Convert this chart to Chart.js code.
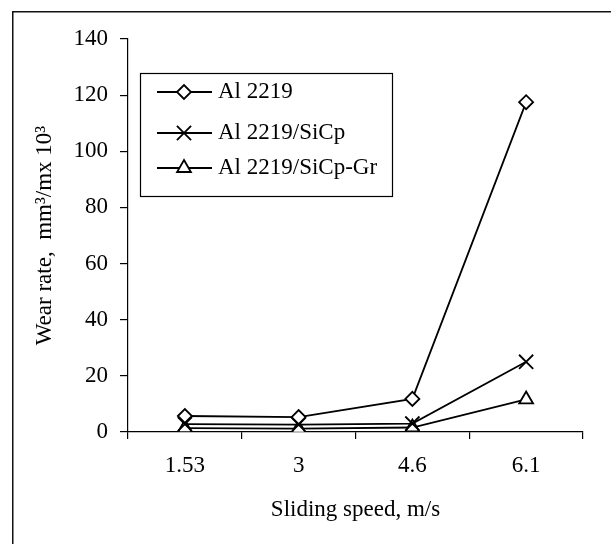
<!DOCTYPE html>
<html>
<head>
<meta charset="utf-8">
<script src="https://cdn.jsdelivr.net/npm/chart.js@4/dist/chart.umd.min.js"></script>
<style>
body{margin:0;background:#fff}
#wrap{width:611px;height:544px}
</style>
</head>
<body>
<div id="wrap"><canvas id="wear"></canvas></div>
<script>

/* DATA */

const speeds=["1.53","3","4.6","6.1"]
const al2219=[5.7,5.3,11.8,117.5]
const al2219SiCp=[2.8,2.6,3,25]
const al2219SiCpGr=[1.4,1.2,1.6,11.6]
const seriesNames=["Al 2219","Al 2219/SiCp","Al 2219/SiCp-Gr"]
const yMin=0
const yMax=140
const yStep=20

const serif="'Liberation Serif','Times New Roman',serif"


/* FRAME + LEGEND */

const frame={
id:"frame",
beforeDraw(chart){
let c=chart.ctx
c.save()
c.fillStyle="#fff"
c.fillRect(0,0,chart.width,chart.height)
c.strokeStyle="#111"
c.lineWidth=1.5
c.beginPath()
c.moveTo(12.75,chart.height)
c.lineTo(12.75,11.75)
c.lineTo(chart.width,11.75)
c.stroke()
c.restore()
},
afterDraw(chart){
let c=chart.ctx
c.save()
c.strokeStyle="#000"
c.lineWidth=1.2
c.strokeRect(140.5,73.5,252,123)

const rows=[92,133,168]

chart.data.datasets.forEach((ds,i)=>{
let y=rows[i]
c.strokeStyle="#000"
c.lineWidth=1.8
c.beginPath()
c.moveTo(157,y)
c.lineTo(212,y)
c.stroke()
c.fillStyle="#fff"
Chart.helpers.drawPoint(c,{pointStyle:ds.pointStyle,radius:ds.pointRadius,borderWidth:1.8,rotation:0},184,y)
c.fillStyle="#000"
c.font="23px "+serif
c.textBaseline="middle"
c.fillText(ds.label,218,y)
})

c.restore()
}
}


/* CHART */

function series(label,data,style,r){
return{
label:label,
data:data,
borderColor:"#000",
borderWidth:1.8,
pointStyle:style,
pointRadius:r,
pointBackgroundColor:"#fff",
pointBorderColor:"#000",
pointBorderWidth:1.8,
tension:0,
fill:false
}
}

new Chart(document.getElementById("wear"),{

type:"line",

data:{
labels:speeds,
datasets:[
series(seriesNames[0],al2219,"rectRot",7),
series(seriesNames[1],al2219SiCp,"crossRot",10),
series(seriesNames[2],al2219SiCpGr,"triangle",8)
]
},

options:{
responsive:true,
maintainAspectRatio:false,
animation:false,
layout:{padding:{top:39,right:28,left:0,bottom:0}},
plugins:{
legend:{display:false},
tooltip:{enabled:false}
},

scales:{
x:{
offset:true,
grid:{offset:true,drawOnChartArea:false,drawTicks:true,tickLength:7,color:"#000",lineWidth:1.2},
border:{display:true,color:"#000",width:1.2},
ticks:{color:"#000",font:{family:serif,size:23},padding:13,maxRotation:0},
title:{display:true,text:"Sliding speed, m/s",color:"#000",font:{family:serif,size:23},padding:{top:4,bottom:20}},
afterFit(s){s.height=112}
},

y:{
min:yMin,
max:yMax,
grid:{drawOnChartArea:false,drawTicks:true,tickLength:8,color:"#000",lineWidth:1.2},
border:{display:true,color:"#000",width:1.2},
ticks:{stepSize:yStep,color:"#000",font:{family:serif,size:23},padding:12},
title:{display:true,text:"Wear rate,  mm³/mx 10³",color:"#000",font:{family:serif,size:23},padding:{top:31,bottom:0}},
afterFit(s){s.width=128}
}
}

},

plugins:[frame]

})

</script>
</body>
</html>
